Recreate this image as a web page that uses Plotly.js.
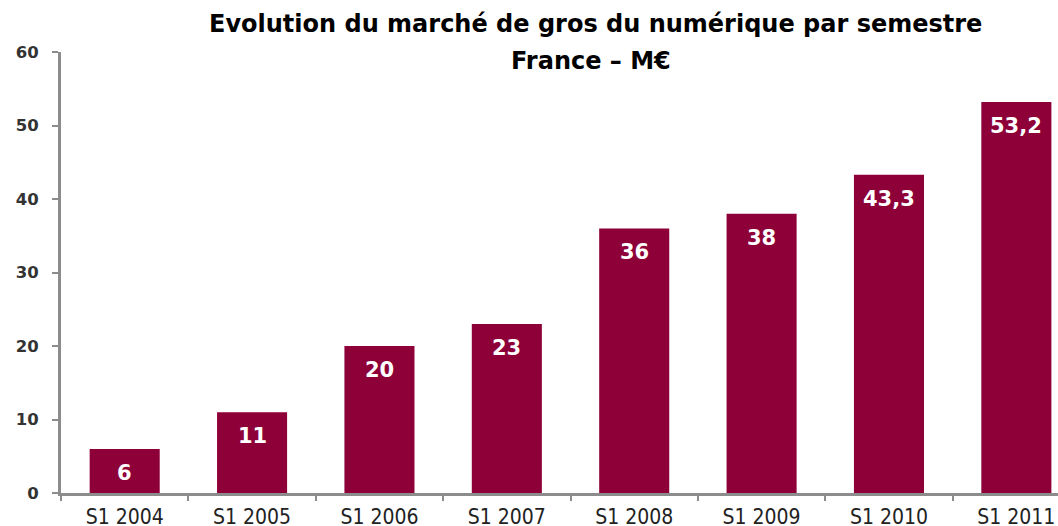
<!DOCTYPE html>
<html>
<head>
<meta charset="utf-8">
<script src="https://cdn.plot.ly/plotly-3.0.1.min.js"></script>
<style>html,body{margin:0;padding:0;background:#fff;overflow:hidden}#chart{width:1058px;height:526px}</style>
</head>
<body>
<div id="chart"></div>
<script>
const categories = ["S1 2004","S1 2005","S1 2006","S1 2007","S1 2008","S1 2009","S1 2010","S1 2011"];
const values = [6, 11, 20, 23, 36, 38, 43.3, 53.2];
const yTicks = [0, 10, 20, 30, 40, 50, 60];
const titleLine1 = "Evolution du marché de gros du numérique par semestre";
const titleLine2 = "France – M€";

const labels = values.map(v => String(v).replace('.', ','));

const trace = {
  type: 'bar',
  x: categories,
  y: values,
  marker: {color: '#8E0038', line: {width: 0}},
  hoverinfo: 'none'
};

const valueAnnotations = categories.map((c, i) => ({
  x: c, y: values[i], xref: 'x', yref: 'y',
  text: labels[i], showarrow: false,
  xanchor: 'center', yanchor: 'middle', yshift: -24,
  font: {family: 'DejaVu Sans, Verdana, sans-serif', size: 21, color: '#ffffff', weight: 'bold'}
}));

const titleFont = {family: 'DejaVu Sans, Verdana, sans-serif', size: 24, color: '#000000', weight: 'bold'};
const titleAnnotations = [
  {text: titleLine1, xref: 'paper', yref: 'paper', x: (595 - 61) / 997, y: 1 + (52 - 24) / 441,
   xanchor: 'center', yanchor: 'middle', showarrow: false, font: titleFont},
  {text: titleLine2, xref: 'paper', yref: 'paper', x: (591 - 61) / 997, y: 1 + (52 - 61) / 441,
   xanchor: 'center', yanchor: 'middle', showarrow: false, font: titleFont}
];

const layout = {
  width: 1058, height: 526,
  margin: {l: 61, r: 0, t: 52, b: 33},
  paper_bgcolor: '#ffffff', plot_bgcolor: '#ffffff',
  showlegend: false,
  bargap: 0.45,
  annotations: titleAnnotations.concat(valueAnnotations),
  xaxis: {
    type: 'category',
    categoryorder: 'array', categoryarray: categories,
    range: [-0.5, 7.327],
    tickson: 'boundaries',
    showgrid: false, zeroline: false,
    showline: true, linecolor: '#8c8c8c', linewidth: 3,
    ticks: 'outside', ticklen: 5, tickwidth: 2, tickcolor: '#8c8c8c',
    tickfont: {family: 'DejaVu Sans Condensed, Arial, sans-serif', size: 21, color: '#222222'},
    ticklabelstandoff: 3,
    fixedrange: true
  },
  yaxis: {
    range: [0, 60],
    tickmode: 'array', tickvals: yTicks, ticktext: yTicks.map(String),
    showgrid: false, zeroline: false,
    showline: true, linecolor: '#8c8c8c', linewidth: 3,
    ticks: 'outside', ticklen: 6, tickwidth: 2, tickcolor: '#8c8c8c',
    tickfont: {family: 'DejaVu Sans, Verdana, sans-serif', size: 16.5, color: '#333333', weight: 'bold'},
    ticklabelstandoff: 10,
    fixedrange: true
  }
};

Plotly.newPlot('chart', [trace], layout, {displayModeBar: false, staticPlot: true});
</script>
</body>
</html>
